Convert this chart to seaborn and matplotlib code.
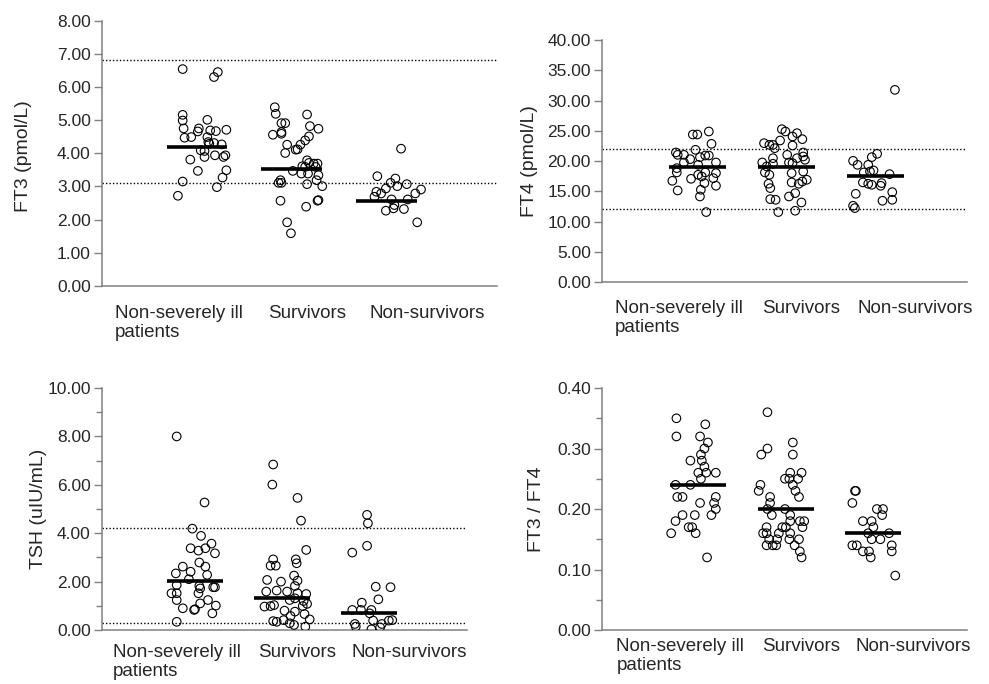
import numpy as np
import pandas as pd
import seaborn as sns
import matplotlib.pyplot as plt
import matplotlib.transforms as mtransforms
from matplotlib.ticker import MultipleLocator, FormatStrFormatter

groups = ["Non-severely ill\npatients", "Survivors", "Non-survivors"]

# FT3 (pmol/L), values and horizontal scatter offsets
ft3_nonsevere = [6.54, 6.45, 6.30, 5.16, 4.99, 5.01, 4.75, 4.75, 4.66, 4.69, 4.67, 4.71, 4.47, 4.49, 4.49, 4.34,
                 4.29, 4.31, 4.27, 4.09, 4.07, 3.94, 3.94, 3.89, 3.89, 3.81, 3.47, 3.49, 3.27, 3.15, 2.98, 2.72]
ft3_nonsevere_jit = [-0.15, 0.22, 0.18, -0.15, -0.15, 0.11, -0.14, 0.02, 0.01, 0.14, 0.20, 0.31, -0.13, -0.06, 0.11, 0.12,
                     0.13, 0.18, 0.26, 0.04, 0.08, 0.19, 0.30, 0.28, 0.08, -0.07, 0.01, 0.31, 0.27, -0.15, 0.21, -0.20]
ft3_survivors = [5.39, 5.19, 5.17, 4.91, 4.91, 4.82, 4.74, 4.64, 4.59, 4.56, 4.51, 4.39, 4.26, 4.26, 4.11, 4.12, 4.01,
                 3.79, 3.71, 3.61, 3.69, 3.69, 3.59, 3.59, 3.47, 3.39, 3.34, 3.39, 3.19, 3.19, 3.11, 3.11, 3.07, 3.01,
                 2.57, 2.59, 2.57, 2.39, 1.92, 1.59]
ft3_survivors_jit = [-0.18, -0.17, 0.16, -0.11, -0.07, 0.19, 0.28, -0.11, -0.11, -0.20, 0.18, 0.14, -0.05, 0.09, 0.04,
                     0.06, -0.07, 0.16, 0.18, 0.11, 0.23, 0.27, 0.14, 0.25, 0.01, 0.17, 0.28, 0.10, 0.26, -0.12, -0.11,
                     -0.14, 0.16, 0.32, -0.12, 0.28, 0.27, 0.15, -0.05, -0.01]
ft3_nonsurvivors = [4.14, 3.31, 3.24, 3.11, 3.07, 3.01, 2.94, 2.91, 2.84, 2.79, 2.79, 2.69, 2.61, 2.61, 2.44, 2.34,
                    2.32, 2.27, 1.92]
ft3_nonsurvivors_jit = [0.15, -0.10, 0.09, 0.04, 0.21, 0.11, -0.01, 0.36, -0.11, -0.06, 0.30, -0.13, 0.05, 0.22, 0.08,
                        0.07, 0.18, -0.01, 0.32]
ft3_median = [4.19, 3.52, 2.57]
ft3_ref = [3.1, 6.8]

# FT4 (pmol/L)
ft4_nonsevere = [24.88, 24.38, 24.38, 22.84, 21.85, 21.41, 21.02, 21.02, 20.91, 20.91, 20.31, 20.64, 19.76, 19.76,
                 19.37, 18.82, 18.11, 18.00, 18.11, 17.72, 17.45, 17.17, 17.06, 16.73, 16.35, 15.91, 15.13, 15.25,
                 14.14, 11.56]
ft4_nonsevere_jit = [0.13, -0.05, 0.00, 0.16, -0.02, -0.24, -0.22, -0.15, 0.09, 0.13, -0.08, 0.03, 0.21, -0.15, 0.01,
                     -0.23, -0.23, 0.21, 0.09, 0.01, 0.05, 0.18, -0.07, -0.28, 0.08, 0.21, -0.22, 0.04, 0.03, 0.10]
ft4_survivors = [25.26, 24.88, 24.60, 24.05, 23.61, 23.39, 22.95, 22.67, 22.67, 22.12, 22.56, 21.41, 21.02, 20.75,
                 20.47, 20.47, 20.20, 19.76, 19.54, 19.10, 19.76, 19.65, 18.27, 18.11, 17.72, 18.00, 16.90, 16.62,
                 16.24, 16.46, 16.24, 15.52, 14.69, 14.14, 13.70, 13.59, 13.15, 11.56, 11.78]
ft4_survivors_jit = [-0.05, -0.01, 0.12, 0.07, 0.18, -0.07, -0.25, -0.19, -0.15, -0.13, 0.07, 0.19, 0.01, 0.19, -0.15,
                     0.12, 0.21, -0.27, -0.15, -0.22, 0.03, 0.07, 0.19, -0.24, -0.19, 0.06, 0.23, 0.18, 0.14, 0.06,
                     -0.20, -0.18, 0.10, 0.03, -0.18, -0.12, 0.17, -0.09, 0.10]
ft4_nonsurvivors = [31.76, 21.19, 20.64, 20.03, 19.37, 19.37, 18.11, 18.44, 18.27, 17.83, 16.46, 16.24, 16.07, 15.91,
                    16.35, 14.58, 14.86, 13.43, 13.59, 12.60, 12.22]
ft4_nonsurvivors_jit = [0.22, 0.02, -0.04, -0.25, -0.20, -0.08, -0.13, -0.02, -0.06, 0.16, -0.14, -0.08, -0.04, 0.06,
                        0.07, -0.22, 0.19, 0.08, 0.19, -0.25, -0.23]
ft4_median = [18.93, 18.93, 17.45]
ft4_ref = [12, 22]

# TSH (uIU/mL)
tsh_nonsevere = [8.0, 5.27, 4.19, 3.89, 3.57, 3.38, 3.28, 3.38, 3.17, 2.79, 2.62, 2.62, 2.41, 2.34, 2.28, 2.10, 1.86,
                 1.82, 1.77, 1.77, 1.72, 1.52, 1.52, 1.52, 1.24, 1.24, 1.10, 0.90, 0.86, 0.83, 1.01, 0.69, 0.34]
tsh_nonsevere_jit = [-0.21, 0.11, -0.03, 0.07, 0.19, -0.05, 0.04, 0.12, 0.23, 0.05, -0.14, 0.12, -0.05, -0.22, 0.14,
                     -0.07, -0.21, 0.05, 0.21, 0.23, 0.06, -0.27, -0.21, 0.04, -0.21, 0.15, 0.06, -0.14, 0.00, -0.01,
                     0.24, 0.20, -0.21]
tsh_survivors = [6.84, 6.01, 5.46, 4.52, 3.31, 2.92, 2.92, 2.66, 2.66, 2.76, 2.25, 2.04, 2.07, 2.00, 1.82, 1.59, 1.63,
                 1.59, 1.52, 1.49, 1.24, 1.31, 1.20, 1.08, 0.97, 0.99, 1.03, 0.99, 0.80, 0.76, 0.58, 0.66, 0.44, 0.37,
                 0.34, 0.41, 0.28, 0.21, 0.14]
tsh_survivors_jit = [-0.10, -0.11, 0.18, 0.22, 0.28, -0.10, 0.16, -0.13, -0.07, 0.17, 0.14, 0.18, -0.17, -0.01, 0.15,
                     -0.18, -0.06, 0.06, 0.18, 0.28, 0.09, 0.15, 0.25, 0.29, -0.20, -0.13, -0.09, 0.24, 0.03, 0.15,
                     0.10, 0.26, 0.32, -0.10, -0.06, 0.02, 0.09, 0.14, 0.27]
tsh_nonsurvivors = [4.76, 4.41, 3.48, 3.20, 1.79, 1.77, 1.27, 1.13, 0.83, 0.83, 0.83, 0.69, 0.39, 0.39, 0.41, 0.25,
                    0.14, 0.25, 0.11, 0.03]
tsh_nonsurvivors_jit = [-0.02, -0.01, -0.02, -0.19, 0.08, 0.25, 0.11, -0.08, -0.19, -0.09, 0.03, 0.01, 0.05, 0.23,
                        0.27, -0.16, -0.15, 0.15, 0.13, 0.03]
tsh_median = [2.04, 1.31, 0.72]
tsh_ref = [0.27, 4.2]

# FT3 / FT4
ratio_nonsevere = [0.35, 0.34, 0.32, 0.32, 0.31, 0.30, 0.29, 0.28, 0.28, 0.27, 0.26, 0.26, 0.26, 0.25, 0.24, 0.24,
                   0.22, 0.22, 0.22, 0.21, 0.21, 0.20, 0.19, 0.19, 0.19, 0.18, 0.17, 0.17, 0.16, 0.16, 0.12]
ratio_nonsevere_jit = [-0.25, 0.08, -0.25, 0.02, 0.11, 0.07, 0.03, -0.09, 0.04, 0.07, 0.00, 0.09, 0.20, 0.03, -0.26,
                       -0.09, -0.24, -0.18, 0.20, 0.02, 0.18, 0.20, -0.18, -0.04, 0.15, -0.26, -0.11, -0.07, -0.31,
                       -0.03, 0.10]
ratio_survivors = [0.36, 0.31, 0.30, 0.29, 0.29, 0.26, 0.26, 0.25, 0.25, 0.25, 0.24, 0.24, 0.23, 0.23, 0.22, 0.22,
                   0.21, 0.20, 0.20, 0.19, 0.19, 0.18, 0.18, 0.18, 0.17, 0.17, 0.17, 0.17, 0.16, 0.16, 0.16, 0.16,
                   0.15, 0.15, 0.15, 0.15, 0.14, 0.14, 0.14, 0.14, 0.13, 0.12]
ratio_survivors_jit = [-0.21, 0.08, -0.21, -0.28, 0.08, 0.05, 0.18, -0.01, 0.04, 0.14, -0.29, 0.08, -0.31, 0.11,
                       -0.18, 0.15, -0.18, -0.21, -0.01, -0.16, 0.05, 0.05, 0.16, 0.21, -0.22, -0.04, 0.00, 0.19,
                       -0.26, -0.22, -0.08, 0.05, -0.19, -0.10, 0.04, 0.15, -0.22, -0.15, -0.11, 0.10, 0.16, 0.18]
ratio_nonsurvivors = [0.23, 0.23, 0.21, 0.20, 0.20, 0.19, 0.18, 0.18, 0.17, 0.16, 0.16, 0.15, 0.15, 0.14, 0.14, 0.14,
                      0.13, 0.13, 0.13, 0.12, 0.09]
ratio_nonsurvivors_jit = [-0.21, -0.20, -0.24, 0.04, 0.11, 0.10, -0.12, -0.02, 0.00, -0.06, 0.18, -0.02, 0.08, -0.24,
                          -0.19, 0.21, -0.12, -0.05, 0.21, -0.03, 0.25]
ratio_median = [0.24, 0.20, 0.16]
ratio_ref = []

sns.set_style("ticks")
plt.rcParams['font.family'] = ['Liberation Sans', 'DejaVu Sans']

grey = "#808080"


def make_df(vals, jits):
    rows = []
    for i, (v, j) in enumerate(zip(vals, jits)):
        rows.append(pd.DataFrame({"x": i + np.array(j), "value": v}))
    return pd.concat(rows, ignore_index=True)


def draw_panel(ax, vals, jits, medians, refs, ylabel, ymax, major, minor, xlim, label_xy, xpad):
    df = make_df(vals, jits)
    for r in refs:
        ax.axhline(r, color="black", lw=1.0, ls=(0, (1, 1.5)), zorder=1)
    sns.scatterplot(data=df, x="x", y="value", ax=ax, color="none", edgecolor="black",
                    s=38, linewidth=0.8, legend=False, zorder=3)
    pos = np.arange(len(medians))
    ax.hlines(medians, pos - 0.32, pos + 0.32, color="black", lw=2.6, zorder=4)

    ax.set_xlim(*xlim)
    ax.set_ylim(0, ymax)
    ax.yaxis.set_major_locator(MultipleLocator(major))
    ax.yaxis.set_major_formatter(FormatStrFormatter("%.2f"))
    if minor:
        ax.yaxis.set_minor_locator(MultipleLocator(minor))
    ax.tick_params(axis="y", which="major", length=6, width=1, color=grey, labelsize=12.5, pad=2)
    ax.tick_params(axis="y", which="minor", length=4, width=1, color=grey)
    ax.set_xticks(pos)
    ax.set_xticklabels(groups, fontsize=13.5, linespacing=1.15, multialignment="left")
    ax.tick_params(axis="x", length=0, pad=xpad)
    # labels in the original are spread out wider than the groups
    shifts = [-13, 11, 29]
    for lab, dx in zip(ax.get_xticklabels(), shifts):
        lab.set_transform(lab.get_transform() + mtransforms.ScaledTranslation(dx / 72, 0, ax.figure.dpi_scale_trans))
        lab.set_verticalalignment("top")

    ax.set_xlabel("")
    ax.set_ylabel(ylabel, fontsize=14)
    ax.yaxis.set_label_coords(*label_xy)
    for s in ["top", "right"]:
        ax.spines[s].set_visible(False)
    for s in ["left", "bottom"]:
        ax.spines[s].set_color(grey)
        ax.spines[s].set_linewidth(1.1)


fig = plt.figure(figsize=(9.89, 6.84), dpi=100)
ax1 = fig.add_axes([0.1031, 0.5819, 0.3994, 0.3879])
ax2 = fig.add_axes([0.6087, 0.5877, 0.3691, 0.3538])
ax3 = fig.add_axes([0.1031, 0.0789, 0.3691, 0.3538])
ax4 = fig.add_axes([0.6087, 0.0789, 0.3691, 0.3538])

draw_panel(ax1, [ft3_nonsevere, ft3_survivors, ft3_nonsurvivors],
           [ft3_nonsevere_jit, ft3_survivors_jit, ft3_nonsurvivors_jit],
           ft3_median, ft3_ref, "FT3 (pmol/L)", 8, 1, None, (-1.0, 3.16), (-0.177, 0.49), 14)
draw_panel(ax2, [ft4_nonsevere, ft4_survivors, ft4_nonsurvivors],
           [ft4_nonsevere_jit, ft4_survivors_jit, ft4_nonsurvivors_jit],
           ft4_median, ft4_ref, "FT4 (pmol/L)", 40, 5, None, (-1.07, 3.03), (-0.175, 0.5), 13)
draw_panel(ax3, [tsh_nonsevere, tsh_survivors, tsh_nonsurvivors],
           [tsh_nonsevere_jit, tsh_survivors_jit, tsh_nonsurvivors_jit],
           tsh_median, tsh_ref, "TSH (uIU/mL)", 10, 2, 1, (-1.07, 3.13), (-0.151, 0.5), 10)
draw_panel(ax4, [ratio_nonsevere, ratio_survivors, ratio_nonsurvivors],
           [ratio_nonsevere_jit, ratio_survivors_jit, ratio_nonsurvivors_jit],
           ratio_median, ratio_ref, "FT3 / FT4", 0.4, 0.1, 0.05, (-1.10, 3.07), (-0.156, 0.5), 6)

fig.savefig("out.png", dpi=100)
